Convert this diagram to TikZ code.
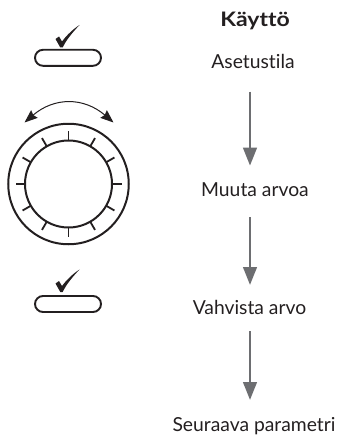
\documentclass[tikz,border=0pt]{standalone}
\usepackage{fontspec}
\setmainfont{Lato}[Ligatures=NoCommon]
\newfontfamily\headfont{Lato}[Ligatures=NoCommon,FakeStretch=1.15,BoldFeatures={FakeStretch=1.15}]
\usetikzlibrary{arrows.meta}
\definecolor{inkc}{HTML}{231F20}
\definecolor{flowc}{HTML}{6D6E71}
\tikzset{
  lbl/.style={anchor=base,inner sep=0pt,text=inkc,font=\fontsize{19.3}{22}\selectfont},
  flow/.style={draw=flowc,line width=2.8pt,-{Triangle[length=18pt,width=13.5pt,fill=flowc]}},
  btn/.style={draw=inkc,line width=1.9pt,rounded corners=8pt,minimum width=66pt,minimum height=16pt,inner sep=0pt,fill=white},
  ring/.style={draw=inkc,line width=2pt,circle,inner sep=0pt,fill=none},
  tick/.style={draw=inkc,line width=1.8pt},
  chk/.style={fill=inkc,draw=none},
  turn/.style={draw=inkc,line width=1pt,{Stealth[length=13pt,width=10pt,inset=1.5pt]}-{Stealth[length=13pt,width=10pt,inset=1.5pt]}}
}
\newcommand{\chkmark}[1]{\fill[chk,shift={(#1)}] (-6,-8.5) -- (-2.5,-11) -- (0.5,-6) .. controls (5,-12) and (11,-18) .. (18,-22.5) .. controls (11,-15) and (5,-8) .. (1.2,0) -- (-1.2,0) -- cycle;}
\begin{document}
\begin{tikzpicture}[x=1pt,y=-1pt]
\useasboundingbox (0,0) rectangle (340,436);
% labels
\node[lbl,font=\fontsize{20}{22}\selectfont\headfont\bfseries] (kaytto) at (255,26.5) {Käyttö};
\node[lbl] (asetus) at (253,68) {Asetustila};
\node[lbl] (muuta) at (255,196) {Muuta arvoa};
\node[lbl] (vahvista) at (249.5,314) {Vahvista arvo};
\node[lbl] (seuraava) at (254,431) {Seuraava parametri};
\coordinate (axis) at (250,0);
% flow arrows
\draw[flow] ([yshift=-23.7pt]asetus.base -| axis) -- ([yshift=30.3pt]muuta.base -| axis);
\draw[flow] ([yshift=-21pt]muuta.base -| axis) -- ([yshift=29pt]vahvista.base -| axis);
\draw[flow] ([yshift=-17pt]vahvista.base -| axis) -- ([yshift=31pt]seuraava.base -| axis);
% buttons
\node[btn] (btnA) at (68,57.8) {};
\node[btn] (btnB) at (68,304) {};
\chkmark{61.5,47.5}
\chkmark{61.5,292}
% dial
\coordinate (dial) at (68.5,184);
\node[ring,minimum size=120.5pt] (outer) at (dial) {};
\node[ring,minimum size=87pt] (inner) at (dial) {};
\foreach \a in {0,30,...,330}
  \draw[tick] ([shift={(\a:43.5)}]dial) -- ([shift={(\a:53)}]dial);
% rotation arrow
\coordinate (turnL) at (24.5,122.5);
\coordinate (turnR) at (113.5,122.5);
\draw[turn] (turnL) .. controls (54.3,97) and (83.7,97) .. (turnR);
\end{tikzpicture}
\end{document}
